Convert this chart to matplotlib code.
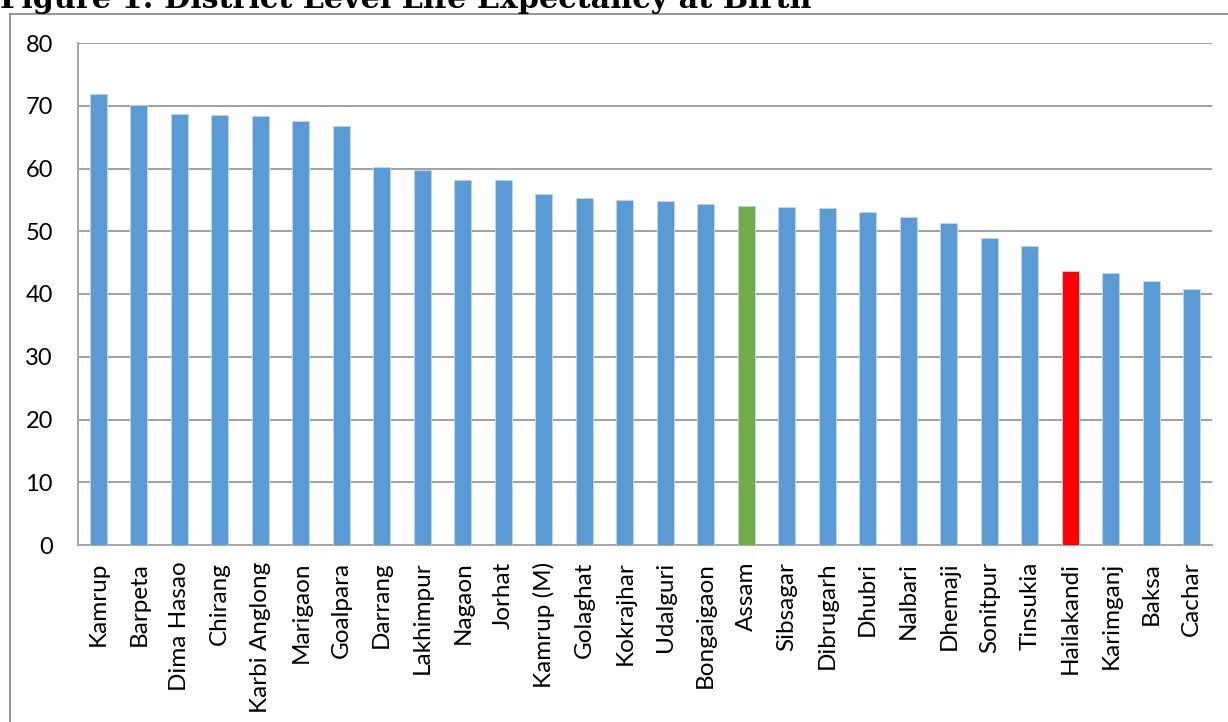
import matplotlib
matplotlib.use("Agg")
import matplotlib.pyplot as plt
from matplotlib.lines import Line2D
import numpy as np

# district life expectancy values
districts = ["Kamrup", "Barpeta", "Dima Hasao", "Chirang", "Karbi Anglong",
             "Marigaon", "Goalpara", "Darrang", "Lakhimpur", "Nagaon", "Jorhat",
             "Kamrup (M)", "Golaghat", "Kokrajhar", "Udalguri", "Bongaigaon",
             "Assam", "Sibsagar", "Dibrugarh", "Dhubri", "Nalbari", "Dhemaji",
             "Sonitpur", "Tinsukia", "Hailakandi", "Karimganj", "Baksa", "Cachar"]
life_exp = [71.9, 70.1, 68.7, 68.5, 68.3, 67.5, 66.7, 60.3, 59.8, 58.2, 58.1,
            56.0, 55.25, 55.0, 54.9, 54.4, 54.0, 53.9, 53.65, 53.1, 52.2, 51.25,
            48.85, 47.6, 43.7, 43.4, 42.1, 40.75]
highlight = {"Assam": "#70AD47", "Hailakandi": "#FF0000"}
y_ticks = [0, 10, 20, 30, 40, 50, 60, 70, 80]

W, H = 1228, 722
fig = plt.figure(figsize=(W / 100, H / 100), dpi=100)
ax = fig.add_axes([78 / W, (H - 545) / H, (1212 - 78) / W, (545 - 43) / H])

colors = [highlight.get(d, "#5B9BD5") for d in districts]
x = np.arange(len(districts))
ax.bar(x, life_exp, width=0.41, color=colors, edgecolor="#BDD7EE", linewidth=0.6, zorder=3)

ax.set_xlim(-0.5, len(districts) - 0.5)
ax.set_ylim(0, 80)
ax.set_yticks(y_ticks)
ax.set_xticks(x)
ax.set_xticklabels(districts, rotation=90, fontfamily="Lato", fontsize=17.5)
for lab in ax.get_yticklabels():
    lab.set_fontfamily("Lato")
    lab.set_fontsize(17)
ax.tick_params(axis="x", length=0, pad=12)
ax.tick_params(axis="y", length=0, pad=18)

ax.grid(axis="y", color="#A0A0A0", linewidth=1.4, zorder=0)
for s in ["top", "right"]:
    ax.spines[s].set_visible(False)
for s in ["left", "bottom"]:
    ax.spines[s].set_color("#A6A6A6")
    ax.spines[s].set_linewidth(1.4)

# outer chart border (only left and top visible in the crop)
fig.add_artist(Line2D([9.5 / W, 9.5 / W], [-0.1, (H - 13.5) / H], transform=fig.transFigure,
                      color="#8C8C8C", linewidth=1.3))
fig.add_artist(Line2D([9.5 / W, 1.1], [(H - 13.5) / H, (H - 13.5) / H], transform=fig.transFigure,
                      color="#8C8C8C", linewidth=1.3))

# title cut off at the top of the image, as in the source
title = fig.text(0.0, (H - 8.5) / H, "Figure 1: District Level Life Expectancy at Birth",
                 fontfamily="DejaVu Serif", fontweight="bold", fontsize=20, va="baseline")
fig.canvas.draw()
w = title.get_window_extent().width
title.set_fontsize(20 * 810 / w)

fig.savefig("out.png", dpi=100)
